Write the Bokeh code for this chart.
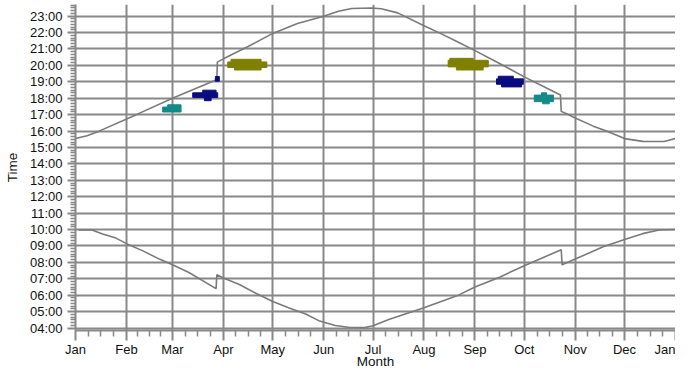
from bokeh.plotting import figure
from bokeh.models import FixedTicker, Range1d
from bokeh.embed import file_html
from bokeh.resources import INLINE

# ---- axis categories / ticks ----
month_days = [0, 31, 59, 90, 120, 151, 181, 212, 243, 273, 304, 334, 365]
month_labels = ["Jan", "Feb", "Mar", "Apr", "May", "Jun", "Jul", "Aug", "Sep", "Oct", "Nov", "Dec", "Jan"]
hour_ticks = [4, 5, 6, 7, 8, 9, 10, 11, 12, 13, 14, 15, 16, 17, 18, 19, 20, 21, 22, 23]
hour_labels = ["04:00", "05:00", "06:00", "07:00", "08:00", "09:00", "10:00", "11:00", "12:00", "13:00",
               "14:00", "15:00", "16:00", "17:00", "18:00", "19:00", "20:00", "21:00", "22:00", "23:00"]

# ---- sunset curve (day of year, hour) ----
sunset_days = [0, 7, 14, 37, 59, 84, 86, 86.3, 90, 105, 120, 135, 151, 160, 168, 180, 186, 196, 212,
               222, 232, 243, 258, 273, 285, 295, 295.5, 299, 304, 315, 323, 334, 345, 358, 365]
sunset_hours = [15.55, 15.72, 15.98, 17.0, 18.0, 19.05, 19.15, 20.2, 20.4, 21.15, 21.95, 22.55, 23.0, 23.3,
                23.47, 23.5, 23.45, 23.2, 22.42, 21.95, 21.46, 20.9, 20.12, 19.3, 18.7, 18.2, 17.2, 17.04,
                16.8, 16.3, 16.0, 15.54, 15.37, 15.36, 15.55]

# ---- sunrise curve (day of year, hour) ----
sunrise_days = [2, 10, 16.5, 24.6, 31, 41, 51, 59, 69, 85.5, 86, 89.6, 99.7, 110, 120, 130, 140, 148,
                158, 166, 176, 181, 191, 212, 232, 243, 258, 273, 295.5, 296, 304, 321, 334, 345, 355, 365]
sunrise_hours = [9.98, 9.97, 9.73, 9.48, 9.14, 8.7, 8.2, 7.85, 7.38, 6.4, 7.25, 7.06, 6.65, 6.1, 5.62,
                 5.22, 4.85, 4.45, 4.15, 4.05, 4.03, 4.14, 4.53, 5.23, 5.96, 6.5, 7.1, 7.8, 8.77, 7.85,
                 8.2, 8.95, 9.4, 9.75, 9.97, 10.0]

# ---- observation clusters: rows of (day from, day to, hour from, hour to) ----
teal_day_from = [56.1, 53.0, 279.1, 283.5, 284.2]
teal_day_to = [64.2, 64.2, 290.7, 286.6, 288.2]
teal_hour_from = [17.46, 17.16, 17.79, 18.19, 17.66]
teal_hour_to = [17.60, 17.46, 18.19, 18.33, 17.79]

navy_day_from = [77.4, 71.3, 78.4, 85.1, 257.2, 256.1, 259.2]
navy_day_to = [85.5, 86.5, 82.5, 87.5, 266.3, 272.4, 271.4]
navy_hour_from = [18.33, 18.05, 17.85, 19.04, 19.18, 18.85, 18.69]
navy_hour_to = [18.49, 18.33, 18.05, 19.32, 19.34, 19.18, 18.85]

olive_day_from = [94.6, 92.6, 96.7, 227.7, 226.7, 231.7]
olive_day_to = [112.9, 116.4, 112.9, 241.9, 251.1, 248.0]
olive_hour_from = [20.21, 19.87, 19.72, 20.31, 19.91, 19.72]
olive_hour_to = [20.37, 20.21, 19.87, 20.43, 20.31, 19.91]

FONT = "Liberation Sans"
GRID = "#888888"

p = figure(width=675, height=371, output_backend="svg", toolbar_location=None,
           x_range=Range1d(0, 365), y_range=Range1d(3.85, 23.71),
           min_border_left=75, min_border_right=0, min_border_top=4, min_border_bottom=30)
p.outline_line_color = None
p.background_fill_color = "white"
p.border_fill_color = "white"

# ticks
minor_x = []
for a, b in zip(month_days[:-1], month_days[1:]):
    for k in (1, 2, 3):
        minor_x.append(a + (b - a) * k / 4.0)
minor_y = [4 + i / 6.0 for i in range(0, 119) if i % 6 != 0]

p.xaxis.ticker = FixedTicker(ticks=month_days, minor_ticks=minor_x)
p.yaxis.ticker = FixedTicker(ticks=hour_ticks, minor_ticks=minor_y)
p.xaxis.major_label_overrides = {d: l for d, l in zip(month_days, month_labels)}
p.yaxis.major_label_overrides = {h: l for h, l in zip(hour_ticks, hour_labels)}

p.xgrid.ticker = FixedTicker(ticks=month_days)
p.ygrid.ticker = FixedTicker(ticks=hour_ticks)
for g in (p.xgrid, p.ygrid):
    g.grid_line_color = GRID
    g.grid_line_width = 2
    g.grid_line_alpha = 1.0

for ax in (p.xaxis, p.yaxis):
    ax.axis_line_color = GRID
    ax.axis_line_width = 2
    ax.major_tick_line_color = GRID
    ax.major_tick_line_width = 2
    ax.minor_tick_line_color = GRID
    ax.minor_tick_line_width = 1.5
    ax.major_tick_in = 0
    ax.minor_tick_in = 0
    ax.major_label_text_font = FONT
    ax.major_label_text_font_size = "13px"
    ax.major_label_text_color = "#111111"
    ax.axis_label_text_font = FONT
    ax.axis_label_text_font_size = "13.5px"
    ax.axis_label_text_font_style = "normal"
    ax.axis_label_text_color = "#111111"

p.xaxis.major_tick_out = 10
p.xaxis.minor_tick_out = 6
p.xaxis.major_label_standoff = 1
p.xaxis.axis_label = "Month"
p.xaxis.axis_label_standoff = -6

p.yaxis.major_tick_out = 8
p.yaxis.minor_tick_out = 5
p.yaxis.major_label_standoff = 5
p.yaxis.axis_label = "Time"
p.yaxis.axis_label_standoff = 7

# curves
p.line(sunset_days, sunset_hours, line_color="#7a7a7a", line_width=1.6)
p.line(sunrise_days, sunrise_hours, line_color="#7a7a7a", line_width=1.6)

# clusters
p.quad(left=teal_day_from, right=teal_day_to, bottom=teal_hour_from, top=teal_hour_to,
       fill_color="#128a8a", line_color="#128a8a", line_width=1)
p.quad(left=navy_day_from, right=navy_day_to, bottom=navy_hour_from, top=navy_hour_to,
       fill_color="#0a0a80", line_color="#0a0a80", line_width=1)
p.quad(left=olive_day_from, right=olive_day_to, bottom=olive_hour_from, top=olive_hour_to,
       fill_color="#808000", line_color="#808000", line_width=1)

open("out.html", "w").write(file_html(p, INLINE))
